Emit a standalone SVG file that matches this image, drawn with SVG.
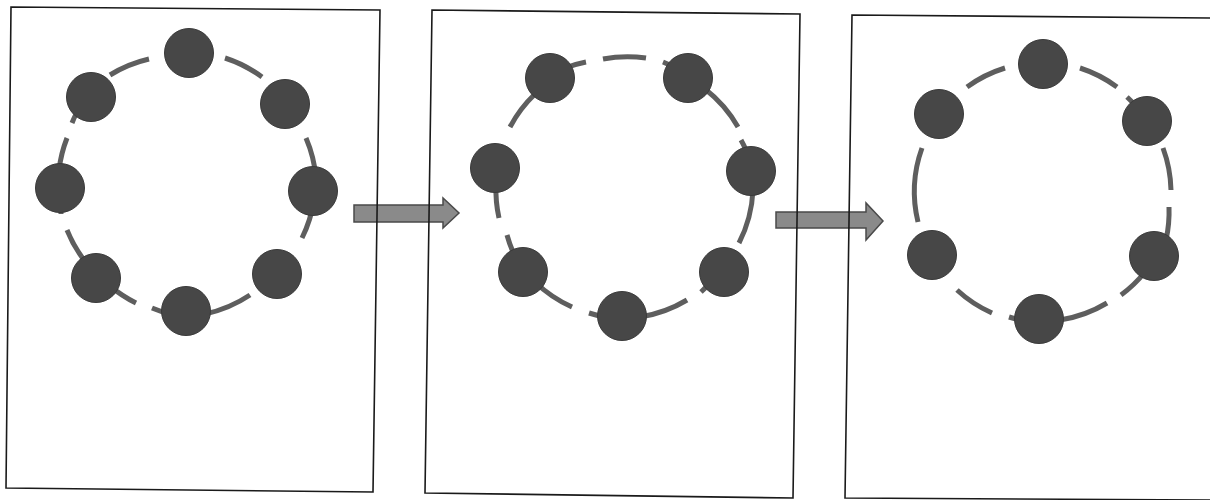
<svg xmlns="http://www.w3.org/2000/svg" width="1210" height="500" viewBox="0 0 1210 500">
<style>
.panel{fill:none;stroke:#1a1a1a;stroke-width:1.6}
.arc{fill:none;stroke:#5e5e5e;stroke-width:5;stroke-linecap:butt}
.node{fill:#474747;stroke:#3a3a3a;stroke-width:1}
.arrow{fill:#8a8a8a;stroke:#4a4a4a;stroke-width:1.5;stroke-linejoin:miter}
</style>
<rect width="1210" height="500" fill="#ffffff"/>
<g id="arrows">
<polygon class="arrow" points="354,205 443,205 443,198 459,213 443,228 443,222 354,222"/>
<polygon class="arrow" points="776,212 866,212 866,203 883,221 866,240 866,228 776,228"/>
</g>
<g id="connectors">
<path class="arc" d="M225,58 A130,130 0 0 1 262,77"/>
<path class="arc" d="M306,138 A130,130 0 0 1 316,178"/>
<path class="arc" d="M314,200 A130,130 0 0 1 302,238"/>
<path class="arc" d="M250,295 A130,130 0 0 1 205,314"/>
<path class="arc" d="M170,314 A130,130 0 0 1 152,308"/>
<path class="arc" d="M136,303 A130,130 0 0 1 110,286"/>
<path class="arc" d="M88,265 A130,130 0 0 1 67,230"/>
<path class="arc" d="M61,214 A130,130 0 0 1 61,205"/>
<path class="arc" d="M59,170 A130,130 0 0 1 67,138"/>
<path class="arc" d="M72,123 A130,130 0 0 1 76,114"/>
<path class="arc" d="M110,75 A130,130 0 0 1 149,59"/>

<path class="arc" d="M565,68 A129,129 0 0 1 586,62"/>
<path class="arc" d="M603,59 A129,129 0 0 1 646,58"/>
<path class="arc" d="M663,62 A129,129 0 0 1 672,66"/>
<path class="arc" d="M705,89 A129,129 0 0 1 738,127"/>
<path class="arc" d="M741,140 A129,129 0 0 1 746,150"/>
<path class="arc" d="M753,190 A129,129 0 0 1 739,243"/>
<path class="arc" d="M708,285 A129,129 0 0 1 701,292"/>
<path class="arc" d="M687,300 A129,129 0 0 1 640,317"/>
<path class="arc" d="M605,317 A129,129 0 0 1 589,313"/>
<path class="arc" d="M572,307 A129,129 0 0 1 535,282"/>
<path class="arc" d="M513,252 A129,129 0 0 1 507,235"/>
<path class="arc" d="M499,218 A129,129 0 0 1 496,185"/>
<path class="arc" d="M510,127 A129,129 0 0 1 535,94"/>

<path class="arc" d="M1080,68 A129,129 0 0 1 1117,87"/>
<path class="arc" d="M1127,97 A129,129 0 0 1 1134,104"/>
<path class="arc" d="M1163,148 A129,129 0 0 1 1171,190"/>
<path class="arc" d="M1169,207 A129,129 0 0 1 1166,240"/>
<path class="arc" d="M1145,272 A129,129 0 0 1 1121,295"/>
<path class="arc" d="M1107,303 A129,129 0 0 1 1060,320"/>
<path class="arc" d="M1016,319 A129,129 0 0 1 1009,317"/>
<path class="arc" d="M992,313 A129,129 0 0 1 957,290"/>
<path class="arc" d="M918,222 A129,129 0 0 1 922,148"/>
<path class="arc" d="M967,87 A129,129 0 0 1 1005,68"/>
</g>
<g id="panel1">
<polygon class="panel" points="11,7 380,10 373,492 6,488"/>
<g id="p1n1"><circle class="node" cx="189" cy="53" r="24.5"/></g>
<g id="p1n2"><circle class="node" cx="285" cy="104" r="24.5"/></g>
<g id="p1n3"><circle class="node" cx="313" cy="191" r="24.5"/></g>
<g id="p1n4"><circle class="node" cx="277" cy="274" r="24.5"/></g>
<g id="p1n5"><circle class="node" cx="186" cy="311" r="24.5"/></g>
<g id="p1n6"><circle class="node" cx="96" cy="278" r="24.5"/></g>
<g id="p1n7"><circle class="node" cx="60" cy="188" r="24.5"/></g>
<g id="p1n8"><circle class="node" cx="91" cy="97" r="24.5"/></g>
</g>
<g id="panel2">
<polygon class="panel" points="432,10 800,14 793,498 425,493"/>
<g id="p2n1"><circle class="node" cx="550" cy="78" r="24.5"/></g>
<g id="p2n2"><circle class="node" cx="688" cy="78" r="24.5"/></g>
<g id="p2n3"><circle class="node" cx="751" cy="171" r="24.5"/></g>
<g id="p2n4"><circle class="node" cx="724" cy="272" r="24.5"/></g>
<g id="p2n5"><circle class="node" cx="622" cy="316" r="24.5"/></g>
<g id="p2n6"><circle class="node" cx="523" cy="272" r="24.5"/></g>
<g id="p2n7"><circle class="node" cx="495" cy="168" r="24.5"/></g>
</g>
<g id="panel3">
<polyline class="panel" points="1212,18 852,15 845,498 1212,500"/>
<g id="p3n1"><circle class="node" cx="1043" cy="64" r="24.5"/></g>
<g id="p3n2"><circle class="node" cx="1147" cy="121" r="24.5"/></g>
<g id="p3n3"><circle class="node" cx="1154" cy="256" r="24.5"/></g>
<g id="p3n4"><circle class="node" cx="1039" cy="319" r="24.5"/></g>
<g id="p3n5"><circle class="node" cx="932" cy="255" r="24.5"/></g>
<g id="p3n6"><circle class="node" cx="939" cy="114" r="24.5"/></g>
</g>
</svg>
